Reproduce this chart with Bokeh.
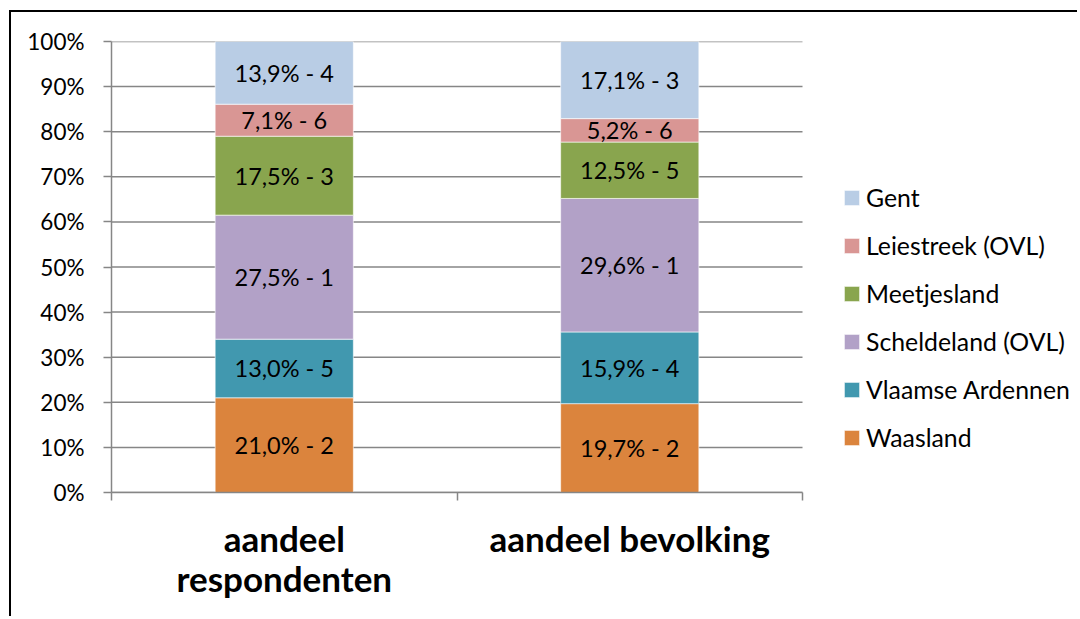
from bokeh.plotting import figure
from bokeh.models import (Range1d, FixedTicker, PrintfTickFormatter, LinearAxis,
                          ColumnDataSource, Legend, LegendItem, LabelSet, CustomJSTickFormatter)
from bokeh.core.properties import value
from bokeh.embed import file_html
from bokeh.resources import INLINE

# ---- data ----
category_labels = ["aandeel\nrespondenten", "aandeel bevolking"]
regions = ["Waasland", "Vlaamse Ardennen", "Scheldeland (OVL)", "Meetjesland",
           "Leiestreek (OVL)", "Gent"]
respondenten = [21.0, 13.0, 27.5, 17.5, 7.1, 13.9]
bevolking = [19.7, 15.9, 29.6, 12.5, 5.2, 17.1]
rank_respondenten = [2, 5, 1, 3, 6, 4]
rank_bevolking = [2, 4, 1, 5, 6, 3]
colors = ["#DB843D", "#4198AF", "#B2A1C7", "#89A54E", "#D99694", "#B9CDE5"]
y_ticks = [0, 10, 20, 30, 40, 50, 60, 70, 80, 90, 100]

FONT = "Lato"
GRAY = "#868686"
N_CAT = len(category_labels)
# frame extends to the right edge so the legend can live inside it;
# the plotting area (0..N_CAT) covers 691 of the frame's 968 px
X_END = N_CAT * 968 / 691

p = figure(width=1068, height=606, output_backend="svg", toolbar_location=None,
           x_range=Range1d(0, X_END), y_range=Range1d(0, 100),
           min_border_left=100, min_border_top=29, min_border_right=0,
           min_border_bottom=126,
           styles={"border-left": "2px solid black", "border-top": "2px solid black"})
p.margin = (10, 0, 0, 9)
p.outline_line_color = None
p.background_fill_color = "white"
p.border_fill_color = "white"
p.xgrid.visible = False
p.ygrid.visible = False

# horizontal gridlines limited to the category area
p.segment(x0=[0] * len(y_ticks), x1=[N_CAT] * len(y_ticks), y0=y_ticks, y1=y_ticks,
          line_color=GRAY, line_width=1.5)

xs = [0.5, 1.5]
bottoms = [0.0, 0.0]
renderers = []
lab_x, lab_y, lab_t = [], [], []
for i, name in enumerate(regions):
    vals = [respondenten[i], bevolking[i]]
    ranks = [rank_respondenten[i], rank_bevolking[i]]
    tops = [bottoms[j] + vals[j] for j in range(2)]
    r = p.vbar(x=xs, bottom=list(bottoms), top=tops, width=0.4,
               fill_color=colors[i], line_color="white", line_width=1, line_alpha=0.6)
    renderers.append((name, r))
    for j in range(2):
        lab_x.append(xs[j])
        lab_y.append((bottoms[j] + tops[j]) / 2)
        lab_t.append(f"{vals[j]:.1f}".replace(".", ",") + f"% - {ranks[j]}")
    bottoms = tops

src = ColumnDataSource(dict(x=lab_x, y=lab_y, t=lab_t))
p.add_layout(LabelSet(x="x", y="y", text="t", source=src, text_align="center",
                      text_baseline="middle", text_font=value(FONT),
                      text_font_size="23.5px", text_color="black"))

# y axis
p.yaxis.ticker = FixedTicker(ticks=y_ticks)
p.yaxis.formatter = PrintfTickFormatter(format="%d%%")
p.yaxis.axis_line_color = GRAY
p.yaxis.axis_line_width = 1.5
p.yaxis.major_tick_line_color = GRAY
p.yaxis.major_tick_line_width = 1.5
p.yaxis.major_tick_in = 0
p.yaxis.major_tick_out = 8
p.yaxis.minor_tick_line_color = None
p.yaxis.major_label_text_font = FONT
p.yaxis.major_label_text_font_size = "22.5px"
p.yaxis.major_label_text_color = "black"
p.yaxis.major_label_standoff = 19

# x axis: boundary ticks
p.xaxis.ticker = FixedTicker(ticks=list(range(N_CAT + 1)))
p.xaxis.bounds = (0, N_CAT)
p.xaxis.formatter = CustomJSTickFormatter(code="return ''")
p.xaxis.axis_line_color = GRAY
p.xaxis.axis_line_width = 1.5
p.xaxis.major_tick_line_color = GRAY
p.xaxis.major_tick_line_width = 1.5
p.xaxis.major_tick_in = 0
p.xaxis.major_tick_out = 8
p.xaxis.minor_tick_line_color = None
p.xaxis.major_label_standoff = 0
p.xaxis.major_label_text_font_size = "1px"

# x axis: category labels
lab_axis = LinearAxis(ticker=FixedTicker(ticks=xs),
                      formatter=CustomJSTickFormatter(args=dict(labels=category_labels),
                                                      code="return labels[Math.floor(tick)]"))
lab_axis.axis_line_color = None
lab_axis.major_tick_line_color = None
lab_axis.minor_tick_line_color = None
lab_axis.major_label_text_font = FONT
lab_axis.major_label_text_font_style = "bold"
lab_axis.major_label_text_font_size = "35px"
lab_axis.major_label_text_color = "black"
lab_axis.major_label_text_line_height = 0.96
lab_axis.major_label_standoff = 10
p.add_layout(lab_axis, "below")

legend = Legend(items=[LegendItem(label=n, renderers=[r]) for n, r in reversed(renderers)],
                location=(731, 40), orientation="vertical",
                glyph_width=19, glyph_height=19, label_height=19,
                label_standoff=5, spacing=19, padding=0, margin=0,
                border_line_color=None, background_fill_alpha=0,
                label_text_font=FONT, label_text_font_size="24.8px",
                label_text_color="black")
p.add_layout(legend, "center")

open("out.html", "w").write(file_html(p, INLINE))
